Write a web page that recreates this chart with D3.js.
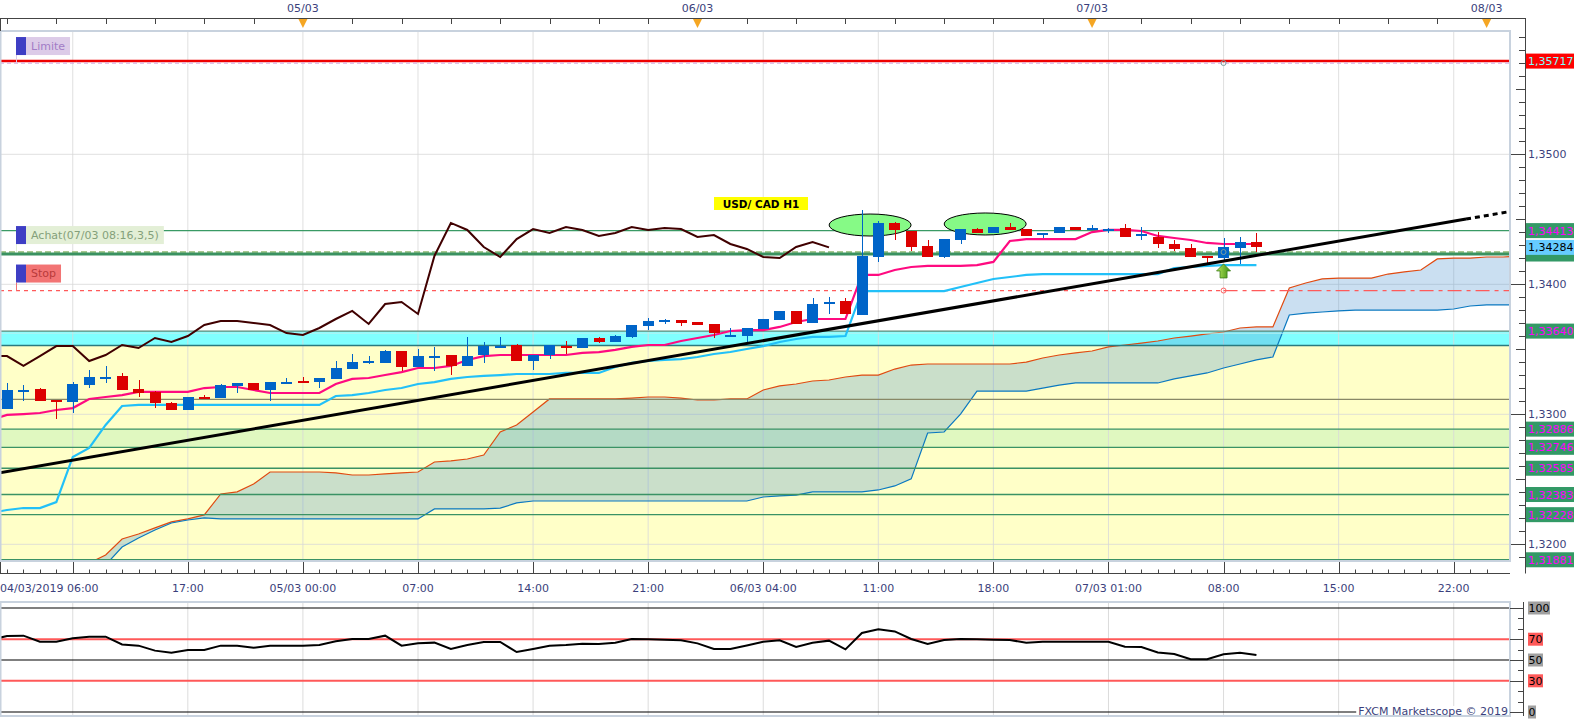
<!DOCTYPE html>
<html>
<head>
<meta charset="utf-8">
<title>USD/CAD H1</title>
<script src="https://cdn.jsdelivr.net/npm/d3@7"></script>
<style>
    body { margin: 0; background: #ffffff; }
    svg text { font-family: "DejaVu Sans", Verdana, sans-serif; font-size: 11px; }
</style>
</head>
<body>
<div id="chart"></div>
<script>
/* * * * * * * * * * * * * * * * *
*   USD/CAD H1 - Ichimoku chart   *
* * * * * * * * * * * * * * * * * */

// first candle is 04/03/2019 06:00, one candle per hour
const startTime = Date.UTC(2019, 2, 4, 6);

const candleOpen = [
    1.33041, 1.33179, 1.33195, 1.33110, 1.33095, 1.33225, 1.33279, 1.33295, 1.33195, 1.33172,
    1.33087, 1.33033, 1.33133, 1.33125, 1.33218, 1.33241, 1.33187, 1.33241, 1.33256, 1.33248,
    1.33272, 1.33348, 1.33395, 1.33395, 1.33487, 1.33364, 1.33441, 1.33456, 1.33372, 1.33456,
    1.33518, 1.33533, 1.33410, 1.33456, 1.33518, 1.33510, 1.33587, 1.33556, 1.33595, 1.33679,
    1.33710, 1.33725, 1.33710, 1.33695, 1.33602, 1.33602, 1.33656, 1.33725, 1.33795, 1.33702,
    1.33856, 1.33872, 1.33764, 1.34210, 1.34472, 1.34410, 1.34295, 1.34210, 1.34341, 1.34425,
    1.34395, 1.34441, 1.34425, 1.34379, 1.34395, 1.34441, 1.34418, 1.34418, 1.34433, 1.34372,
    1.34364, 1.34310, 1.34279, 1.34218, 1.34202, 1.34279, 1.34325];
const candleHigh = [
    1.33241, 1.33225, 1.33202, 1.33110, 1.33248, 1.33341, 1.33372, 1.33318, 1.33264, 1.33179,
    1.33095, 1.33133, 1.33148, 1.33233, 1.33241, 1.33241, 1.33248, 1.33279, 1.33287, 1.33279,
    1.33410, 1.33464, 1.33448, 1.33495, 1.33487, 1.33502, 1.33518, 1.33456, 1.33595, 1.33556,
    1.33595, 1.33541, 1.33456, 1.33533, 1.33564, 1.33587, 1.33595, 1.33610, 1.33687, 1.33741,
    1.33733, 1.33725, 1.33710, 1.33695, 1.33664, 1.33664, 1.33733, 1.33795, 1.33795, 1.33895,
    1.33902, 1.33895, 1.34572, 1.34487, 1.34479, 1.34410, 1.34341, 1.34348, 1.34425, 1.34433,
    1.34441, 1.34472, 1.34425, 1.34395, 1.34441, 1.34441, 1.34456, 1.34433, 1.34464, 1.34441,
    1.34402, 1.34341, 1.34310, 1.34218, 1.34356, 1.34364, 1.34395];
const candleLow = [
    1.33041, 1.33102, 1.33102, 1.32964, 1.33010, 1.33202, 1.33241, 1.33187, 1.33133, 1.33048,
    1.33033, 1.33033, 1.33118, 1.33125, 1.33164, 1.33187, 1.33102, 1.33233, 1.33241, 1.33202,
    1.33272, 1.33348, 1.33387, 1.33395, 1.33333, 1.33364, 1.33333, 1.33302, 1.33372, 1.33395,
    1.33518, 1.33410, 1.33341, 1.33425, 1.33464, 1.33510, 1.33548, 1.33556, 1.33587, 1.33648,
    1.33695, 1.33679, 1.33687, 1.33587, 1.33595, 1.33556, 1.33656, 1.33725, 1.33695, 1.33702,
    1.33772, 1.33772, 1.33764, 1.34172, 1.34341, 1.34256, 1.34210, 1.34202, 1.34310, 1.34395,
    1.34395, 1.34418, 1.34372, 1.34356, 1.34395, 1.34418, 1.34418, 1.34395, 1.34364, 1.34341,
    1.34279, 1.34256, 1.34210, 1.34164, 1.34172, 1.34156, 1.34248];
const candleClose = [
    1.33187, 1.33187, 1.33102, 1.33095, 1.33233, 1.33287, 1.33287, 1.33187, 1.33164, 1.33087,
    1.33033, 1.33133, 1.33125, 1.33225, 1.33241, 1.33187, 1.33248, 1.33248, 1.33248, 1.33279,
    1.33356, 1.33402, 1.33402, 1.33487, 1.33364, 1.33448, 1.33448, 1.33372, 1.33448, 1.33525,
    1.33525, 1.33410, 1.33456, 1.33533, 1.33510, 1.33587, 1.33556, 1.33602, 1.33687, 1.33718,
    1.33718, 1.33702, 1.33687, 1.33625, 1.33610, 1.33664, 1.33733, 1.33795, 1.33695, 1.33848,
    1.33864, 1.33772, 1.34218, 1.34472, 1.34418, 1.34287, 1.34210, 1.34348, 1.34425, 1.34395,
    1.34441, 1.34418, 1.34372, 1.34395, 1.34441, 1.34418, 1.34433, 1.34425, 1.34364, 1.34379,
    1.34310, 1.34272, 1.34210, 1.34202, 1.34287, 1.34325, 1.34284];

// indicator lines start one bar before the first visible candle
const lineStart = -1;
const tenkanSen = [
    1.32956, 1.32995, 1.33002, 1.33010, 1.33033, 1.33048, 1.33118, 1.33133, 1.33148, 1.33172,
    1.33172, 1.33172, 1.33172, 1.33202, 1.33210, 1.33210, 1.33187, 1.33164, 1.33164, 1.33164,
    1.33164, 1.33233, 1.33272, 1.33279, 1.33302, 1.33325, 1.33356, 1.33356, 1.33372, 1.33418,
    1.33448, 1.33456, 1.33456, 1.33456, 1.33456, 1.33456, 1.33472, 1.33479, 1.33495, 1.33518,
    1.33533, 1.33533, 1.33564, 1.33587, 1.33610, 1.33641, 1.33648, 1.33648, 1.33672, 1.33710,
    1.33733, 1.33733, 1.33733, 1.34072, 1.34072, 1.34110, 1.34133, 1.34141, 1.34141, 1.34141,
    1.34148, 1.34172, 1.34333, 1.34348, 1.34348, 1.34348, 1.34348, 1.34402, 1.34418, 1.34418,
    1.34410, 1.34372, 1.34356, 1.34341, 1.34318, 1.34310, 1.34310, 1.34310];
const kijunSen = [
    1.32241, 1.32264, 1.32279, 1.32279, 1.32325, 1.32672, 1.32741, 1.32918, 1.33064, 1.33072,
    1.33072, 1.33072, 1.33072, 1.33072, 1.33072, 1.33072, 1.33072, 1.33072, 1.33072, 1.33072,
    1.33072, 1.33141, 1.33148, 1.33164, 1.33187, 1.33202, 1.33233, 1.33248, 1.33272, 1.33287,
    1.33295, 1.33302, 1.33310, 1.33310, 1.33310, 1.33318, 1.33318, 1.33318, 1.33364, 1.33395,
    1.33410, 1.33418, 1.33425, 1.33441, 1.33464, 1.33479, 1.33502, 1.33525, 1.33556, 1.33579,
    1.33595, 1.33595, 1.33602, 1.33948, 1.33948, 1.33948, 1.33948, 1.33948, 1.33948, 1.33979,
    1.34010, 1.34041, 1.34056, 1.34072, 1.34079, 1.34079, 1.34079, 1.34079, 1.34079, 1.34079,
    1.34079, 1.34079, 1.34125, 1.34133, 1.34141, 1.34148, 1.34148, 1.34148];

// cloud spans (already shifted 26 bars forward), first value at bar 4
const senkouStart = 4;
const senkouA = [
    1.31764, 1.31856, 1.31918, 1.32041, 1.32079, 1.32126, 1.32172, 1.32195, 1.32226, 1.32387,
    1.32403, 1.32464, 1.32556, 1.32556, 1.32556, 1.32556, 1.32549, 1.32533, 1.32533, 1.32541,
    1.32549, 1.32556, 1.32633, 1.32641, 1.32656, 1.32687, 1.32864, 1.32918, 1.33018, 1.33118,
    1.33118, 1.33118, 1.33118, 1.33118, 1.33125, 1.33133, 1.33133, 1.33125, 1.33110, 1.33110,
    1.33118, 1.33118, 1.33187, 1.33218, 1.33233, 1.33256, 1.33264, 1.33287, 1.33302, 1.33302,
    1.33348, 1.33379, 1.33387, 1.33387, 1.33387, 1.33387, 1.33387, 1.33387, 1.33402, 1.33433,
    1.33456, 1.33472, 1.33487, 1.33518, 1.33533, 1.33548, 1.33564, 1.33587, 1.33602, 1.33618,
    1.33633, 1.33664, 1.33672, 1.33672, 1.33972, 1.34010, 1.34041, 1.34048, 1.34048, 1.34048,
    1.34079, 1.34095, 1.34110, 1.34195, 1.34202, 1.34202, 1.34210, 1.34210, 1.34218];
const senkouB = [
    1.31649, 1.31764, 1.31841, 1.31979, 1.32049, 1.32110, 1.32164, 1.32187, 1.32203, 1.32195,
    1.32195, 1.32195, 1.32195, 1.32195, 1.32195, 1.32195, 1.32195, 1.32195, 1.32195, 1.32195,
    1.32195, 1.32195, 1.32272, 1.32272, 1.32272, 1.32272, 1.32279, 1.32318, 1.32333, 1.32333,
    1.32333, 1.32333, 1.32333, 1.32333, 1.32333, 1.32333, 1.32333, 1.32333, 1.32333, 1.32333,
    1.32333, 1.32333, 1.32364, 1.32372, 1.32379, 1.32403, 1.32403, 1.32403, 1.32403, 1.32418,
    1.32449, 1.32503, 1.32856, 1.32864, 1.33002, 1.33179, 1.33179, 1.33179, 1.33179, 1.33202,
    1.33225, 1.33241, 1.33241, 1.33241, 1.33241, 1.33241, 1.33241, 1.33272, 1.33295, 1.33318,
    1.33356, 1.33387, 1.33418, 1.33441, 1.33764, 1.33779, 1.33787, 1.33795, 1.33802, 1.33802,
    1.33802, 1.33802, 1.33802, 1.33802, 1.33810, 1.33833, 1.33841, 1.33841, 1.33841];

// RSI, first value at bar -1
const rsiValues = [
    69.5, 73, 73.4, 67.6, 67.6, 70.9, 72.4, 72.4, 65, 63.8,
    59, 57, 59.6, 59.6, 63.8, 63.8, 61.8, 63.8, 63.8, 63.8,
    64.5, 68, 70.2, 70.2, 73.4, 63.8, 66, 66.7, 60.6, 64.4,
    67.3, 67.3, 57.7, 60.6, 63.8, 64.5, 65.7, 65.5, 66.5, 70.2,
    70, 69.5, 69, 66, 60.6, 60.6, 64, 67.5, 69, 62.5,
    66.5, 68.6, 60.2, 76, 79.5, 77.5, 70.2, 65.4, 69.2, 70.2,
    70, 69.5, 69.2, 66.6, 67.6, 67.6, 67.6, 67.6, 67.6, 62.8,
    62.4, 57.2, 55.8, 50.7, 50.7, 55.5, 57, 54.8];

// horizontal levels and orders
const limitLevel = 1.35717;
const limitOrder = 1.35702;
const resistLevel = 1.34413;
const currentPrice = 1.34284;
const entryLevel = 1.34248;
const positionLevel = 1.34233;
const stopLevel = 1.33952;
const zoneLevels = [1.33640, 1.33530];
const oliveLevel = 1.33115;
const fiboLevels = [1.32886, 1.32746, 1.32585, 1.32383, 1.32228, 1.31881];
const priceTicks = [1.32, 1.33, 1.34, 1.35];
const rsiTicks = [100, 70, 50, 30, 0];
const trendPoints = [{bar: 0, price: 1.32560}, {bar: 89, price: 1.34507}];
const circledBars = [{bar: 52.5, price: 1.34456}, {bar: 59.5, price: 1.34464}];
const entryBar = 74;
const orderLabels = [
    {text: "Limite", price: limitOrder, bg: "#dccbe8", fg: "#a27cc6"},
    {text: "Achat(07/03 08:16,3,5)", price: entryLevel, bg: "#e3efd6", fg: "#84a07a"},
    {text: "Stop", price: stopLevel, bg: "#f27474", fg: "#b83a3a"}
];

const hour = 3600 * 1000;
const timeAt = i => new Date(startTime + i * hour);

// scales
const x = d3.scaleUtc().domain([timeAt(0), timeAt(90)]).range([7, 1486.6]);
const y = d3.scaleLinear().domain([1.32, 1.35]).range([544.3, 154.3]);
const yRsi = d3.scaleLinear().domain([0, 100]).range([712, 608]);

const plot = {left: 0, right: 1510, top: 31, bottom: 561};
const rsiBox = {top: 602, bottom: 716};
const axisColor = "#3b3f7c";
const comma = (v, d) => d3.format("." + d + "f")(v).replace(".", ",");

const svg = d3.select("#chart").append("svg")
    .attr("width", 1583)
    .attr("height", 720)
    .style("display", "block");

const defs = svg.append("defs");
defs.append("clipPath").attr("id", "plotClip")
    .append("rect")
    .attr("x", plot.left).attr("y", plot.top)
    .attr("width", plot.right - plot.left).attr("height", plot.bottom - plot.top);

const main = svg.append("g").attr("clip-path", "url(#plotClip)");

function hLine(g, price, color, width, dash, x1, x2) {
    return g.append("line")
        .attr("x1", x1 === undefined ? plot.left : x1)
        .attr("x2", x2 === undefined ? plot.right : x2)
        .attr("y1", y(price)).attr("y2", y(price))
        .attr("stroke", color)
        .attr("stroke-width", width)
        .attr("stroke-dasharray", dash || null);
}

// background zones
main.append("rect")
    .attr("x", plot.left).attr("width", plot.right)
    .attr("y", y(zoneLevels[1])).attr("height", plot.bottom - y(zoneLevels[1]))
    .attr("fill", "#ffffc8");
main.append("rect")
    .attr("x", plot.left).attr("width", plot.right)
    .attr("y", y(zoneLevels[0])).attr("height", y(zoneLevels[1]) - y(zoneLevels[0]))
    .attr("fill", "#80ffff");
main.append("rect")
    .attr("x", plot.left).attr("width", plot.right)
    .attr("y", y(fiboLevels[0])).attr("height", y(fiboLevels[1]) - y(fiboLevels[0]))
    .attr("fill", "#e0f8c0");

// grid
const gridBars = d3.range(4, 91, 7);
main.append("g").selectAll("line")
    .data(gridBars)
    .join("line")
    .attr("x1", d => x(timeAt(d))).attr("x2", d => x(timeAt(d)))
    .attr("y1", plot.top).attr("y2", plot.bottom)
    .attr("stroke", "#d8d8d8").attr("stroke-opacity", 0.8);
main.append("g").selectAll("line")
    .data(priceTicks)
    .join("line")
    .attr("x1", plot.left).attr("x2", plot.right)
    .attr("y1", d => y(d)).attr("y2", d => y(d))
    .attr("stroke", "#d8d8d8").attr("stroke-opacity", 0.8);

// ichimoku cloud
const cloud = senkouA.map((a, k) => ({t: timeAt(senkouStart + k), a: a, b: senkouB[k]}));
main.append("path")
    .datum(cloud)
    .attr("fill", "rgba(80,150,210,0.3)")
    .attr("d", d3.area().x(d => x(d.t)).y0(d => y(d.b)).y1(d => y(d.a)));
main.append("path")
    .datum(cloud)
    .attr("fill", "none").attr("stroke", "#e04a10").attr("stroke-width", 1.2)
    .attr("d", d3.line().x(d => x(d.t)).y(d => y(d.a)));
main.append("path")
    .datum(cloud)
    .attr("fill", "none").attr("stroke", "#0a78c0").attr("stroke-width", 1.2)
    .attr("d", d3.line().x(d => x(d.t)).y(d => y(d.b)));

// levels
hLine(main, zoneLevels[0], "#5a8a78", 1.2);
hLine(main, zoneLevels[0] - 0.00016, "#b8f0f0", 1);
hLine(main, zoneLevels[1], "#2a7a80", 1.5);
hLine(main, oliveLevel, "#888866", 1.2);
fiboLevels.forEach(p => hLine(main, p, "#3a9265", 1.3));
hLine(main, limitLevel, "#ee0000", 2.5);
hLine(main, limitOrder, "#d8b0e0", 1.2, "4,3");
hLine(main, resistLevel, "#3a9a65", 1.3);
hLine(main, entryLevel, "#a8c890", 2, "6,3");
hLine(main, positionLevel, "#3a9260", 3);
hLine(main, stopLevel, "#ff5a5a", 1.2, "4,4", plot.left, x(timeAt(entryBar)));
hLine(main, stopLevel, "#ff5a5a", 1.2, "14,5,4,5", x(timeAt(entryBar)), plot.right);

// indicator lines
const pts = (values, start) => values.map((v, k) => ({t: timeAt(start + k), v: v}));
const line = d3.line().x(d => x(d.t)).y(d => y(d.v));
// chikou span: closes drawn 26 bars back
main.append("path")
    .datum(pts(candleClose.slice(26 + lineStart), lineStart))
    .attr("fill", "none").attr("stroke", "#400000").attr("stroke-width", 2)
    .attr("d", line);
main.append("path")
    .datum(pts(kijunSen, lineStart))
    .attr("fill", "none").attr("stroke", "#22c0f8").attr("stroke-width", 2.2)
    .attr("d", line);
main.append("path")
    .datum(pts(tenkanSen, lineStart))
    .attr("fill", "none").attr("stroke", "#ff0a80").attr("stroke-width", 2.2)
    .attr("d", line);

// highlighted tops
main.append("g").selectAll("ellipse")
    .data(circledBars)
    .join("ellipse")
    .attr("cx", d => x(timeAt(d.bar))).attr("cy", d => y(d.price))
    .attr("rx", 41).attr("ry", 11)
    .attr("fill", "#86fa86").attr("stroke", "#000").attr("stroke-width", 1);

// candles
const bars = candleOpen.map((o, i) => ({t: timeAt(i), o: o, h: candleHigh[i], l: candleLow[i], c: candleClose[i]}));
const bw = (x(timeAt(1)) - x(timeAt(0))) * 0.64;
const candle = main.append("g").selectAll("g")
    .data(bars)
    .join("g")
    .attr("shape-rendering", "crispEdges");
candle.append("line")
    .attr("x1", d => Math.round(x(d.t)) + 0.5).attr("x2", d => Math.round(x(d.t)) + 0.5)
    .attr("y1", d => y(d.h)).attr("y2", d => y(d.l))
    .attr("stroke", d => d.c >= d.o ? "#0064c8" : "#dc0000")
    .attr("stroke-width", 1.5);
candle.append("rect")
    .attr("x", d => Math.round(x(d.t) - bw / 2))
    .attr("width", Math.round(bw))
    .attr("y", d => Math.abs(y(d.o) - y(d.c)) < 2 ? (y(d.o) + y(d.c)) / 2 - 1 : Math.min(y(d.o), y(d.c)))
    .attr("height", d => Math.max(2, Math.abs(y(d.o) - y(d.c))))
    .attr("fill", d => d.c >= d.o ? "#0064c8" : "#dc0000");

// trend line, solid then dotted projection
const trend = d3.scaleLinear()
    .domain(trendPoints.map(d => d.bar))
    .range(trendPoints.map(d => d.price));
const trendLine = d3.line().x(d => x(timeAt(d))).y(d => y(trend(d)));
main.append("path")
    .datum([-1, 88.75])
    .attr("stroke", "#000").attr("stroke-width", 3).attr("fill", "none")
    .attr("d", trendLine);
main.append("path")
    .datum([88.75, 92])
    .attr("stroke", "#000").attr("stroke-width", 3).attr("fill", "none")
    .attr("stroke-dasharray", "5,4")
    .attr("d", trendLine);

// entry markers
const ex = x(timeAt(entryBar));
[limitOrder, entryLevel, stopLevel].forEach(p => {
    main.append("circle")
        .attr("cx", ex).attr("cy", y(p)).attr("r", 2.5)
        .attr("fill", "none").attr("stroke", p === stopLevel ? "#ff6060" : "#7aa0a0").attr("stroke-width", 1);
});
const ay = y(candleLow[entryBar]) + 2;
const grad = defs.append("linearGradient").attr("id", "arrowGrad")
    .attr("x1", 0).attr("x2", 1).attr("y1", 0).attr("y2", 0);
grad.append("stop").attr("offset", "0%").attr("stop-color", "#b8e85a");
grad.append("stop").attr("offset", "100%").attr("stop-color", "#3a8c12");
main.append("path")
    .attr("d", `M${ex},${ay} L${ex + 7},${ay + 7} L${ex + 3.5},${ay + 7} L${ex + 3.5},${ay + 14}
        L${ex - 3.5},${ay + 14} L${ex - 3.5},${ay + 7} L${ex - 7},${ay + 7} Z`)
    .attr("fill", "url(#arrowGrad)").attr("stroke", "#3a7c18").attr("stroke-width", 0.8);

// order labels on the left
orderLabels.forEach(o => {
    const ly = y(o.price);
    const g = svg.append("g");
    g.append("line")
        .attr("x1", 16.5).attr("x2", 16.5).attr("y1", ly - 8).attr("y2", ly)
        .attr("stroke", o.bg).attr("stroke-width", 1);
    const box = g.append("rect")
        .attr("x", 26).attr("y", ly - 26).attr("height", 18)
        .attr("fill", o.bg);
    g.append("rect")
        .attr("x", 16).attr("y", ly - 26).attr("width", 10).attr("height", 18)
        .attr("fill", "#3e3ec4");
    const t = g.append("text")
        .attr("x", 31).attr("y", ly - 17)
        .attr("dominant-baseline", "central")
        .attr("fill", o.fg)
        .text(o.text);
    box.attr("width", t.node().getComputedTextLength() + 10);
});

// chart title
const title = svg.append("g");
title.append("rect")
    .attr("x", 714).attr("y", 197).attr("width", 94).attr("height", 13)
    .attr("fill", "#ffff00");
title.append("text")
    .attr("x", 761).attr("y", 203.5)
    .attr("text-anchor", "middle").attr("dominant-baseline", "central")
    .style("font-weight", "bold").style("font-size", "10.5px")
    .text("USD/ CAD H1");

// plot frame
svg.append("rect")
    .attr("x", plot.left + 0.5).attr("y", plot.top)
    .attr("width", plot.right - plot.left - 0.5).attr("height", plot.bottom - plot.top)
    .attr("fill", "none").attr("stroke", "#c8d2de").attr("stroke-width", 2);

// top time axis
svg.append("line")
    .attr("x1", 0).attr("x2", 1525).attr("y1", 18.5).attr("y2", 18.5)
    .attr("stroke", "#444").attr("stroke-width", 1);
svg.append("line")
    .attr("x1", 0.5).attr("x2", 0.5).attr("y1", 18).attr("y2", 31)
    .attr("stroke", "#444");
svg.append("g").selectAll("line")
    .data(d3.range(0, 91, 3))
    .join("line")
    .attr("x1", d => Math.round(x(timeAt(d))) + 0.5).attr("x2", d => Math.round(x(timeAt(d))) + 0.5)
    .attr("y1", 18.5).attr("y2", 24)
    .attr("stroke", "#444");
const dayBars = [18, 42, 66, 90];
const dayFmt = d3.utcFormat("%d/%m");
const days = svg.append("g").selectAll("g").data(dayBars).join("g")
    .attr("transform", d => `translate(${x(timeAt(d))},0)`);
days.append("text")
    .attr("y", 8).attr("text-anchor", "middle").attr("dominant-baseline", "central")
    .attr("fill", axisColor)
    .text(d => dayFmt(timeAt(d)));
days.append("path")
    .attr("d", "M-4.5,19 L4.5,19 L0,28 Z")
    .attr("fill", "#f5a623");

// bottom time axis
svg.append("line")
    .attr("x1", 0).attr("x2", plot.right).attr("y1", 573.5).attr("y2", 573.5)
    .attr("stroke", "#444");
svg.append("line")
    .attr("x1", 0.5).attr("x2", 0.5).attr("y1", 562).attr("y2", 573.5)
    .attr("stroke", "#444");
svg.append("g").selectAll("line")
    .data(d3.range(0, 91, 1))
    .join("line")
    .attr("x1", d => Math.round(x(timeAt(d))) + 0.5).attr("x2", d => Math.round(x(timeAt(d))) + 0.5)
    .attr("y1", d => gridBars.includes(d) ? 562 : 569.5).attr("y2", 573.5)
    .attr("stroke", "#444");
const hmFmt = d3.utcFormat("%H:%M");
svg.append("text")
    .attr("x", 0).attr("y", 588).attr("dominant-baseline", "central")
    .attr("fill", axisColor)
    .text(d3.utcFormat("%d/%m/%Y %H:%M")(timeAt(0)));
let prevDay = dayFmt(timeAt(0));
const timeLabels = [];
gridBars.forEach(b => {
    const t = timeAt(b);
    const label = dayFmt(t) !== prevDay ? dayFmt(t) + " " + hmFmt(t) : hmFmt(t);
    prevDay = dayFmt(t);
    if (x(t) > 120) timeLabels.push({t: t, label: label});
});
svg.append("g").selectAll("text")
    .data(timeLabels)
    .join("text")
    .attr("x", d => x(d.t)).attr("y", 588)
    .attr("text-anchor", "middle").attr("dominant-baseline", "central")
    .attr("fill", axisColor)
    .text(d => d.label);

// right price axis
svg.append("line")
    .attr("x1", 1525.5).attr("x2", 1525.5).attr("y1", 18).attr("y2", 573.5)
    .attr("stroke", "#444");
svg.append("g").selectAll("line")
    .data(d3.range(1319, 1360))
    .join("line")
    .attr("x1", d => d % 10 === 0 ? 1511 : (d % 5 === 0 ? 1516 : 1519))
    .attr("x2", 1525.5)
    .attr("y1", d => Math.round(y(d / 1000)) + 0.5).attr("y2", d => Math.round(y(d / 1000)) + 0.5)
    .attr("stroke", "#444");
svg.append("g").selectAll("text")
    .data(priceTicks)
    .join("text")
    .attr("x", 1528).attr("y", d => y(d))
    .attr("dominant-baseline", "central")
    .attr("fill", axisColor)
    .text(d => comma(d, 4));

// price labels on the axis (the position label sits under the current price box)
const priceLabels = [
    {price: limitLevel, bg: "#ff0000", fg: "#80ffff", shown: true},
    {price: resistLevel, bg: "#339966", fg: "#ff00ff", shown: true},
    {price: positionLevel, bg: "#339966", fg: "#ff00ff", shown: false},
    {price: currentPrice, bg: "#66ccff", fg: "#000000", shown: true},
    {price: zoneLevels[0], bg: "#339966", fg: "#ff00ff", shown: true}
].concat(fiboLevels.map(p => ({price: p, bg: "#339966", fg: "#ff00ff", shown: true})));
const pl = svg.append("g").selectAll("g")
    .data(priceLabels)
    .join("g")
    .attr("transform", d => `translate(1526,${y(d.price)})`);
pl.append("rect")
    .attr("x", 0).attr("y", -7.5).attr("width", 48).attr("height", 15)
    .attr("fill", d => d.bg);
pl.filter(d => d.shown).append("text")
    .attr("x", 2).attr("y", 0.5)
    .attr("dominant-baseline", "central")
    .attr("fill", d => d.fg)
    .text(d => comma(d.price, 5));

// RSI panel
const rsi = svg.append("g");
rsi.append("g").selectAll("line")
    .data(gridBars)
    .join("line")
    .attr("x1", d => x(timeAt(d))).attr("x2", d => x(timeAt(d)))
    .attr("y1", rsiBox.top).attr("y2", rsiBox.bottom)
    .attr("stroke", "#dcdcdc");
rsi.append("g").selectAll("line")
    .data(rsiTicks)
    .join("line")
    .attr("x1", 0).attr("x2", plot.right)
    .attr("y1", d => yRsi(d)).attr("y2", d => yRsi(d))
    .attr("stroke", d => d === 70 || d === 30 ? "#ff5858" : "#000")
    .attr("stroke-width", d => d === 70 || d === 30 ? 2 : 1.2);
rsi.append("path")
    .datum(rsiValues.map((v, k) => ({t: timeAt(lineStart + k), v: v})))
    .attr("fill", "none").attr("stroke", "#000").attr("stroke-width", 2)
    .attr("d", d3.line().x(d => x(d.t)).y(d => yRsi(d.v)));
rsi.append("rect")
    .attr("x", 0.5).attr("y", rsiBox.top)
    .attr("width", plot.right - 0.5).attr("height", rsiBox.bottom - rsiBox.top)
    .attr("fill", "none").attr("stroke", "#c8d2de").attr("stroke-width", 2);
rsi.append("line")
    .attr("x1", 1523.5).attr("x2", 1523.5).attr("y1", rsiBox.top).attr("y2", rsiBox.bottom)
    .attr("stroke", "#444");
rsi.append("g").selectAll("line")
    .data(d3.range(0, 101, 10))
    .join("line")
    .attr("x1", d => rsiTicks.includes(d) ? 1510 : 1518).attr("x2", 1523.5)
    .attr("y1", d => Math.round(yRsi(d)) + 0.5).attr("y2", d => Math.round(yRsi(d)) + 0.5)
    .attr("stroke", "#444");
const rl = rsi.append("g").selectAll("g")
    .data(rsiTicks)
    .join("g")
    .attr("transform", d => `translate(1528,${yRsi(d)})`);
rl.append("rect")
    .attr("x", 0).attr("y", -6.5).attr("height", 13)
    .attr("width", d => String(d).length * 7 + 1)
    .attr("fill", d => d === 70 || d === 30 ? "#ff5a5a" : "#a0a0a0");
rl.append("text")
    .attr("x", 0.5).attr("y", 0.5)
    .attr("dominant-baseline", "central")
    .attr("fill", "#000")
    .text(d => d);

// copyright, on a white patch that cuts the 0 line
const creditBg = rsi.append("rect").attr("fill", "#fff");
const credit = rsi.append("text")
    .attr("x", 1508).attr("y", 711)
    .attr("text-anchor", "end").attr("dominant-baseline", "central")
    .attr("fill", axisColor)
    .text("FXCM Marketscope © 2019");
const cb = credit.node().getBBox();
creditBg.attr("x", cb.x - 2).attr("y", 706).attr("width", cb.width + 3).attr("height", 9);
</script>
</body>
</html>
